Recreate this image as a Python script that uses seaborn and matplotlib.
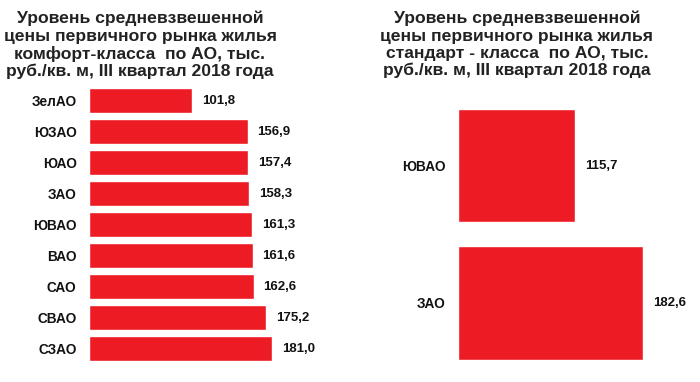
import pandas as pd
import seaborn as sns
import matplotlib.pyplot as plt

# comfort class, by district
comfort_districts = ['ЗелАО', 'ЮЗАО', 'ЮАО', 'ЗАО', 'ЮВАО', 'ВАО', 'САО', 'СВАО', 'СЗАО']
comfort_prices = [101.8, 156.9, 157.4, 158.3, 161.3, 161.6, 162.6, 175.2, 181.0]

# standard class, by district
standard_districts = ['ЮВАО', 'ЗАО']
standard_prices = [115.7, 182.6]

title_comfort = ('Уровень средневзвешенной\nцены первичного рынка жилья\n'
                 'комфорт-класса  по АО, тыс.\nруб./кв. м, III квартал 2018 года')
title_standard = ('Уровень средневзвешенной\nцены первичного рынка жилья\n'
                  'стандарт - класса  по АО, тыс.\nруб./кв. м, III квартал 2018 года')

sns.set_style('white')
plt.rcParams['font.family'] = ['Liberation Sans', 'DejaVu Sans']
plt.rcParams['font.weight'] = 'bold'

red = '#ED1C24'

fig = plt.figure(figsize=(7, 3.82), dpi=100)
ax1 = fig.add_axes([89 / 700, 0.046, 240 / 700, 0.7315])
ax2 = fig.add_axes([458 / 700, 0.0275, 240 / 700, 0.7175])


def draw(ax, names, vals, width):
    df = pd.DataFrame({'district': names, 'price': vals})
    sns.barplot(data=df, x='price', y='district', orient='h', color=red,
                saturation=1, width=width, ax=ax)
    for c in ax.containers:
        ax.bar_label(c, labels=[f'{v:.1f}'.replace('.', ',') for v in vals],
                     padding=7, fontsize=9.5, fontweight='bold', color='#111111')
    ax.set_xlim(0, 237)
    ax.set_xlabel('')
    ax.set_ylabel('')
    ax.set_xticks([])
    ax.tick_params(axis='y', length=0, pad=9, labelsize=9.8, labelcolor='#111111')
    for lab in ax.get_yticklabels():
        lab.set_fontweight('bold')
    sns.despine(ax=ax, left=True, bottom=True)


draw(ax1, comfort_districts, comfort_prices, 0.8)
draw(ax2, standard_districts, standard_prices, 0.825)

fig.text(140 / 700, 1 - 11 / 382, title_comfort, ha='center', va='top',
         fontsize=12.6, fontweight='bold', color='#222222', linespacing=1.17)
fig.text(517 / 700, 1 - 11 / 382, title_standard, ha='center', va='top',
         fontsize=12.6, fontweight='bold', color='#222222', linespacing=1.17)

fig.savefig('out.png', dpi=100)
